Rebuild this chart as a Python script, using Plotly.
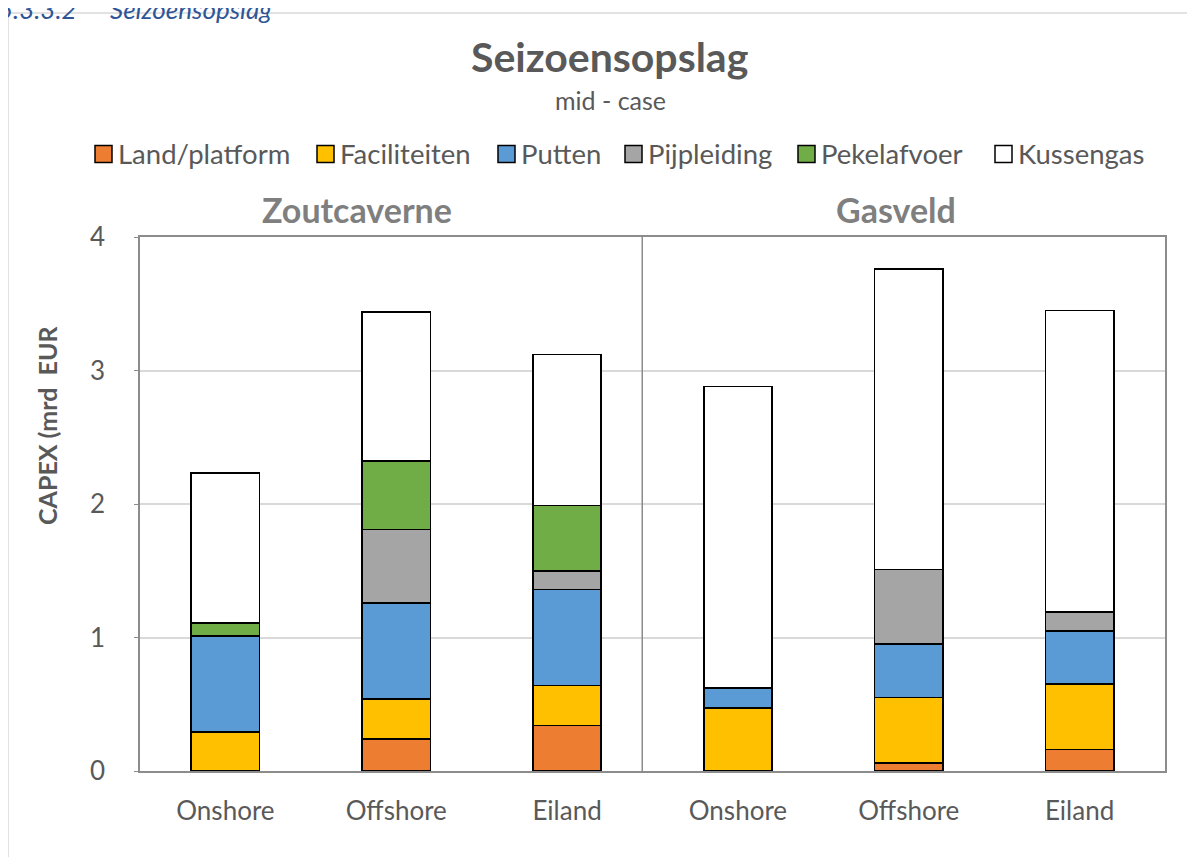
import plotly.graph_objects as go

# ---- data ----
groups = ["Zoutcaverne", "Gasveld"]
categories = ["Onshore", "Offshore", "Eiland", "Onshore", "Offshore", "Eiland"]
series_names = ["Land/platform", "Faciliteiten", "Putten", "Pijpleiding", "Pekelafvoer", "Kussengas"]
land_platform = [0.00, 0.24, 0.34, 0.00, 0.06, 0.16]
faciliteiten = [0.29, 0.30, 0.30, 0.47, 0.49, 0.49]
putten = [0.72, 0.72, 0.72, 0.15, 0.40, 0.40]
pijpleiding = [0.00, 0.55, 0.14, 0.00, 0.56, 0.14]
pekelafvoer = [0.10, 0.51, 0.49, 0.00, 0.00, 0.00]
kussengas = [1.12, 1.12, 1.13, 2.26, 2.25, 2.26]
y_ticks = [0, 1, 2, 3, 4]

series_values = [land_platform, faciliteiten, putten, pijpleiding, pekelafvoer, kussengas]
colors = ["#ED7D31", "#FFC000", "#5B9BD5", "#A5A5A5", "#70AD47", "#FFFFFF"]

W, H = 1195, 857
OFF = 8  # page body margin
FONT = "Lato"
GRAY = "#595959"


def px(x):
    return (x - OFF) / W


def py(y):
    return 1 - (y - OFF) / H


x_pos = list(range(len(categories)))

fig = go.Figure()
for name, vals, col in zip(series_names, series_values, colors):
    fig.add_trace(go.Bar(
        x=x_pos, y=vals, name=name,
        marker=dict(color=col, line=dict(color="#000000", width=1.6)),
        showlegend=False,
    ))

shapes = []
annotations = []

# group divider
shapes.append(dict(type="line", xref="x", yref="y", x0=2.44, x1=2.44, y0=0, y1=4,
                   line=dict(color="#8C8C8C", width=1.5)))
# outer frame
shapes.append(dict(type="rect", xref="paper", yref="paper",
                   x0=px(8), x1=px(1215), y0=py(13), y1=py(880),
                   line=dict(color="#D9D9D9", width=1.5), fillcolor="rgba(0,0,0,0)", layer="below"))

# manual legend
legend_swatch_x = [95, 317, 498, 625, 798, 995]
legend_y = 154
for name, col, sx in zip(series_names, colors, legend_swatch_x):
    shapes.append(dict(type="rect", xref="paper", yref="paper",
                       x0=px(sx), x1=px(sx + 17), y0=py(legend_y - 8.5), y1=py(legend_y + 8.5),
                       fillcolor=col, line=dict(color="#000000", width=1.5)))
    annotations.append(dict(text=name, xref="paper", yref="paper", x=px(sx + 21), y=py(legend_y),
                            xanchor="left", yanchor="middle", showarrow=False,
                            font=dict(family=FONT, size=27.5, color=GRAY)))

# title and subtitle
annotations.append(dict(text="<b>Seizoensopslag</b>", xref="paper", yref="paper", x=px(609), y=py(57),
                        xanchor="center", yanchor="middle", showarrow=False,
                        font=dict(family=FONT, size=41, color=GRAY)))
annotations.append(dict(text="mid - case", xref="paper", yref="paper", x=px(610), y=py(100),
                        xanchor="center", yanchor="middle", showarrow=False,
                        font=dict(family=FONT, size=25, color=GRAY)))

# group labels
for g, gx in zip(groups, [357, 896]):
    annotations.append(dict(text="<b>%s</b>" % g, xref="paper", yref="paper", x=px(gx), y=py(209),
                            xanchor="center", yanchor="middle", showarrow=False,
                            font=dict(family=FONT, size=34, color="#7F7F7F")))

# y-axis title
annotations.append(dict(text="<b>CAPEX (mrd  EUR</b>", xref="paper", yref="paper", x=px(47), y=py(425),
                        xanchor="center", yanchor="middle", textangle=-90, showarrow=False,
                        font=dict(family=FONT, size=25, color=GRAY)))

# section heading (clipped at top of page)
annotations.append(dict(text="<i>5.3.3.2</i>", xref="paper", yref="paper", x=px(-4), y=py(27),
                        xanchor="left", yanchor="bottom", showarrow=False,
                        font=dict(family=FONT, size=26, color="#2F5597")))
annotations.append(dict(text="<i>Seizoensopslag</i>", xref="paper", yref="paper", x=px(108), y=py(27),
                        xanchor="left", yanchor="bottom", showarrow=False,
                        font=dict(family=FONT, size=26, color="#2F5597")))

fig.update_layout(
    width=W, height=H,
    margin=dict(l=0, r=0, t=0, b=0, pad=0),
    paper_bgcolor="white", plot_bgcolor="white",
    barmode="stack", bargap=0.6,
    showlegend=False,
    font=dict(family=FONT, color=GRAY),
    shapes=shapes, annotations=annotations,
    xaxis=dict(
        domain=[px(140), px(1165)],
        range=[-0.5, 5.5],
        tickvals=x_pos, ticktext=categories,
        tickfont=dict(family=FONT, size=26, color=GRAY),
        showline=True, linecolor="#8C8C8C", linewidth=2, mirror=True,
        showgrid=False, zeroline=False, ticks="",
        ticklabelstandoff=16, automargin=False,
    ),
    yaxis=dict(
        domain=[py(771), py(237)],
        range=[0, 4],
        tickvals=y_ticks,
        tickfont=dict(family=FONT, size=26, color=GRAY),
        showline=True, linecolor="#8C8C8C", linewidth=1.5, mirror=True,
        showgrid=True, gridcolor="#D9D9D9", gridwidth=1.5,
        zeroline=False, ticks="outside", ticklen=4, tickcolor="#8C8C8C",
        ticklabelstandoff=24, automargin=False,
    ),
)

fig.write_html("out.html")
